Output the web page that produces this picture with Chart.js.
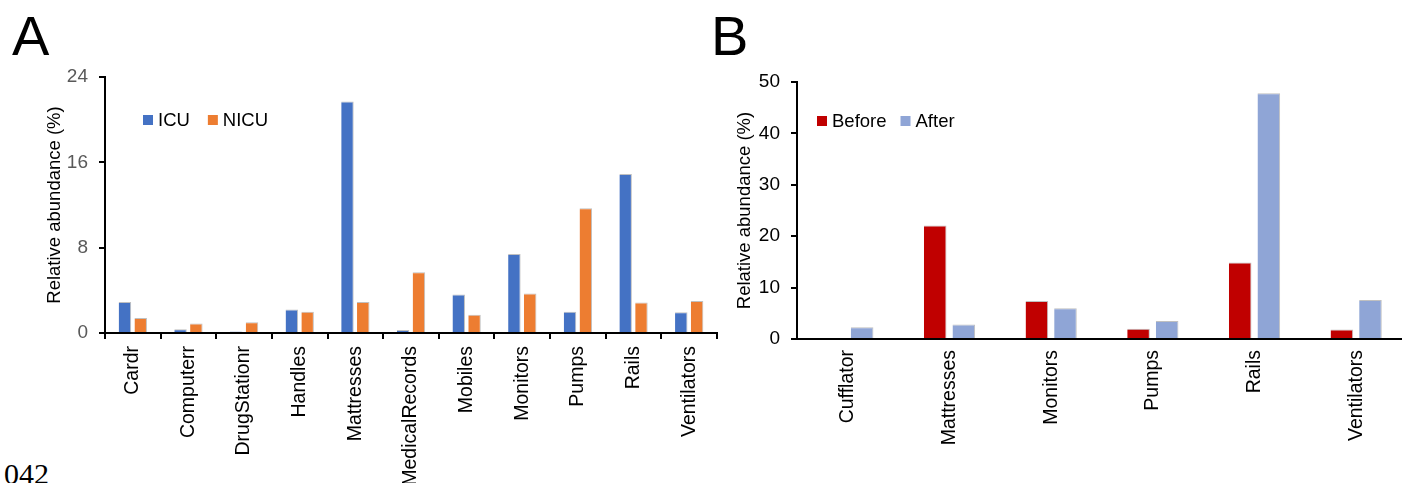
<!DOCTYPE html>
<html>
<head>
<meta charset="utf-8">
<script src="https://cdn.jsdelivr.net/npm/chart.js@4.4.1/dist/chart.umd.min.js"></script>
<style>
html, body { margin:0; padding:0; background:#fff; overflow:hidden; width:1402px; height:483px; }
body { position:relative; font-family:"Liberation Sans", Arial, sans-serif; }
canvas { position:absolute; top:0; }
#cA { left:0; }
#cB { left:700px; }
.tag { position:absolute; font-size:56px; line-height:1; color:#000; }
#foot { position:absolute; left:4px; top:459px; font:30px/1 "Liberation Serif", "Times New Roman", serif; color:#000; }
</style>
</head>
<body>
<div class="tag" style="left:12px; top:8px">A</div>
<div class="tag" style="left:711px; top:8px">B</div>
<div id="foot">042</div>
<canvas id="cA" width="740" height="483"></canvas>
<canvas id="cB" width="710" height="483"></canvas>
<script>
// Panel A data
const categoriesA = ['Cardr', 'Computerr', 'DrugStationr', 'Handles', 'Mattresses', 'MedicalRecords', 'Mobiles', 'Monitors', 'Pumps', 'Rails', 'Ventilators'];
const icu = [2.9, 0.35, 0.15, 2.2, 21.7, 0.28, 3.6, 7.4, 2.0, 14.9, 1.95];
const nicu = [1.4, 0.9, 1.0, 2.0, 2.9, 5.7, 1.7, 3.7, 11.7, 2.85, 3.0];
const ticksA = [0, 8, 16, 24];

// Panel B data
const categoriesB = ['Cufflator', 'Mattresses', 'Monitors', 'Pumps', 'Rails', 'Ventilators'];
const before = [0, 22.1, 7.4, 2.0, 14.9, 1.85];
const after = [2.3, 2.8, 6.0, 3.5, 47.8, 7.6];
const ticksB = [0, 10, 20, 30, 40, 50];

const FAMILY = '"Liberation Sans", Arial, sans-serif';

// legend drawn inside the plot area, top-left
const legendInside = {
  id: 'legendInside',
  afterDraw(chart, args, opts){
    const {ctx, chartArea} = chart;
    let x = chartArea.left + opts.x;
    const y = chartArea.top + opts.y;
    ctx.save();
    ctx.font = '18.5px ' + FAMILY;
    ctx.textBaseline = 'middle';
    chart.data.datasets.forEach(ds => {
      ctx.fillStyle = ds.backgroundColor;
      ctx.fillRect(x, y - 5, 10, 10);
      x += 15;
      ctx.fillStyle = '#000';
      ctx.fillText(ds.label, x, y + 1);
      x += ctx.measureText(ds.label).width + opts.gap;
    });
    ctx.restore();
  }
};

function bar(label, data, color){
  return {
    label, data, backgroundColor: color,
    borderColor: 'rgba(185,185,185,0.9)',
    borderWidth: {top: 1, right: 1, left: 0, bottom: 0}
  };
}

function makeChart(el, cfg){
  return new Chart(el, {
    type: 'bar',
    data: { labels: cfg.labels, datasets: cfg.datasets },
    plugins: [legendInside],
    options: {
      responsive: false,
      animation: false,
      barPercentage: 0.79,
      categoryPercentage: cfg.catPct,
      layout: { padding: { top: cfg.top, right: cfg.right, left: 0, bottom: 0 } },
      plugins: {
        legend: { display: false },
        tooltip: { enabled: false },
        legendInside: cfg.legend
      },
      scales: {
        x: {
          afterFit: s => { s.height = cfg.xHeight; },
          grid: { display: cfg.xTicks, drawTicks: cfg.xTicks, drawOnChartArea: false, tickLength: 6, color: '#000', lineWidth: 2, offset: true },
          border: { display: true, color: '#000', width: 2 },
          ticks: { color: '#000', font: { size: 19.5, family: FAMILY }, minRotation: 90, maxRotation: 90, autoSkip: false, padding: cfg.xPad }
        },
        y: {
          min: 0, max: cfg.ticks[cfg.ticks.length - 1],
          afterBuildTicks: s => { s.ticks = cfg.ticks.map(v => ({ value: v })); },
          afterFit: s => { s.width = cfg.yWidth; },
          grid: { drawOnChartArea: false, drawTicks: true, tickLength: 6, color: '#000', lineWidth: 2 },
          border: { display: true, color: '#000', width: 2 },
          ticks: { color: cfg.tickColor, font: { size: 19, family: FAMILY }, padding: 11 },
          title: { display: true, text: 'Relative abundance (%)', color: '#000', font: { size: 18.5, family: FAMILY }, padding: { top: cfg.titlePad, bottom: 0 } }
        }
      }
    }
  });
}

makeChart(document.getElementById('cA'), {
  labels: categoriesA,
  datasets: [bar('ICU', icu, '#4472C4'), bar('NICU', nicu, '#ED7D31')],
  ticks: ticksA,
  catPct: 0.568,
  top: 77, right: 23,
  xHeight: 150, yWidth: 105,
  xTicks: true, xPad: 7,
  tickColor: '#595959',
  titlePad: 44,
  legend: { x: 38, y: 43, gap: 18 }
});

makeChart(document.getElementById('cB'), {
  labels: categoriesB,
  datasets: [bar('Before', before, '#C00000'), bar('After', after, '#8FA5D6')],
  ticks: ticksB,
  catPct: 0.5625,
  top: 82, right: 3,
  xHeight: 144, yWidth: 97,
  xTicks: false, xPad: 11,
  tickColor: '#000',
  titlePad: 34,
  legend: { x: 20, y: 39, gap: 14 }
});
</script>
</body>
</html>
